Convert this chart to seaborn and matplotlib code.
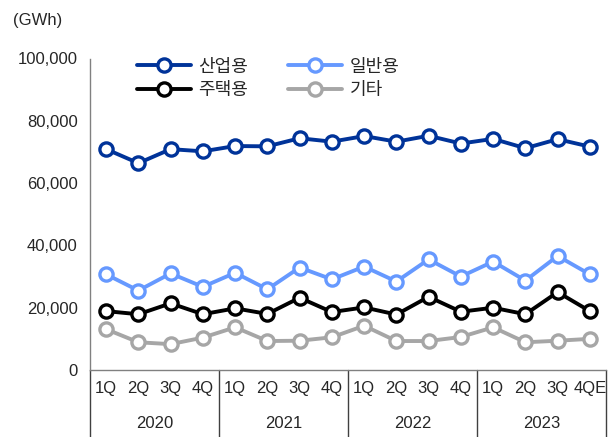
import matplotlib
matplotlib.use("Agg")
import matplotlib.pyplot as plt
import matplotlib.transforms as mtransforms
import seaborn as sns
import pandas as pd

quarters = ["1Q", "2Q", "3Q", "4Q", "1Q", "2Q", "3Q", "4Q",
            "1Q", "2Q", "3Q", "4Q", "1Q", "2Q", "3Q", "4QE"]
years = ["2020", "2021", "2022", "2023"]
series_names = ["산업용", "일반용", "주택용", "기타"]
industrial = [70900, 66400, 70900, 70200, 71900, 71800, 74400, 73300,
              75100, 73300, 75200, 72700, 74200, 71200, 74100, 71700]
general = [30700, 25500, 31000, 26700, 31200, 25900, 32900, 29100,
           33200, 28400, 35500, 30000, 34800, 28700, 36600, 30700]
residential = [18900, 17900, 21400, 17900, 19800, 18000, 23200, 18600,
               20100, 17800, 23500, 18700, 20000, 17900, 25000, 18900]
other = [13100, 8900, 8300, 10400, 13700, 9300, 9400, 10500,
         14200, 9300, 9300, 10600, 13700, 8900, 9400, 10000]
yticks = [0, 20000, 40000, 60000, 80000, 100000]
colors = ["#003399", "#6699FF", "#000000", "#A6A6A6"]

sns.set_theme(style="white")
num_font = ["Liberation Sans Narrow", "Liberation Sans", "DejaVu Sans"]
kr_font = ["Noto Sans CJK KR", "DejaVu Sans"]
plt.rcParams["font.family"] = num_font

fig = plt.figure(figsize=(6.15, 4.37), dpi=100)
ax = fig.add_axes([90 / 615, 1 - 370 / 437, 516 / 615, 311.5 / 437])

values = [industrial, general, residential, other]
handles = {}
for name, vals, col in zip(series_names, values, colors):
    df = pd.DataFrame({"x": list(range(len(quarters))), "y": vals})
    sns.lineplot(data=df, x="x", y="y", ax=ax, color=col, linewidth=2.8,
                 marker="o", markersize=9.5, markerfacecolor="white",
                 markeredgecolor=col, markeredgewidth=2.4, label=name)
    handles[name] = ax.get_lines()[-1]

ax.set_xlim(-0.5, len(quarters) - 0.5)
ax.set_ylim(0, 100000)
ax.set_yticks(yticks)
ax.set_yticklabels([f"{v:,}" for v in yticks], fontsize=12)
ax.set_xticks(range(len(quarters)))
ax.set_xticklabels(quarters, fontsize=12)
ax.tick_params(axis="x", length=0, pad=8)
ax.tick_params(axis="y", length=5, width=1, color="#808080", direction="out", pad=4)
ax.set_xlabel("")
ax.set_ylabel("")
for s in ["top", "right"]:
    ax.spines[s].set_visible(False)
for s in ["left", "bottom"]:
    ax.spines[s].set_color("#808080")
    ax.spines[s].set_linewidth(1)

# group separators and year labels
trans = mtransforms.blended_transform_factory(ax.transData, ax.transAxes)
bottom = -(437 - 370) / 311.5 - 0.01
for i in range(len(years) + 1):
    xpos = 4 * i - 0.5
    ax.plot([xpos, xpos], [0, bottom], transform=trans, color="#404040",
            linewidth=1, clip_on=False)
for i, yr in enumerate(years):
    ax.text(4 * i + 1.5, -(423 - 370) / 311.5, yr, transform=trans,
            ha="center", va="center", fontsize=12)

fig.text(13 / 615, 1 - 20 / 437, "(GWh)", ha="left", va="center", fontsize=12)

order = ["산업용", "주택용", "일반용", "기타"]
leg = ax.legend([handles[n] for n in order], order, ncol=2, frameon=False,
                loc="upper left", bbox_to_anchor=(0.06, 1.055),
                handlelength=3.0, columnspacing=2.2, labelspacing=0.3,
                handletextpad=0.4, prop={"family": kr_font, "size": 13})

fig.savefig("out.png", dpi=100)
